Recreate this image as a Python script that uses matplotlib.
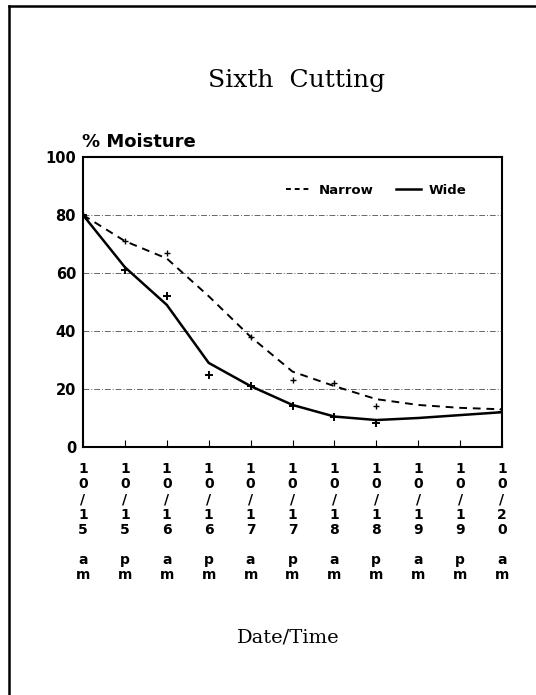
import matplotlib
matplotlib.use("Agg")
import matplotlib.pyplot as plt
from matplotlib.lines import Line2D

# tick labels: date / time, stacked one character per line
dates = ["10/15", "10/15", "10/16", "10/16", "10/17", "10/17",
         "10/18", "10/18", "10/19", "10/19", "10/20"]
ampm = ["am", "pm", "am", "pm", "am", "pm", "am", "pm", "am", "pm", "am"]

# fitted (smoothed) curves
narrow_curve = [80, 71, 65, 52, 38, 26, 21, 16.5, 14.5, 13.5, 13]
wide_curve = [80, 62, 49, 29, 21, 14.5, 10.5, 9.3, 10, 11, 12]

# measured points (+ markers)
narrow_pts_x = [0, 1, 2, 4, 5, 6, 7, 10]
narrow_pts_y = [80, 71, 67, 38, 23, 22, 14, 13]
wide_pts_x = [0, 1, 2, 3, 4, 5, 6, 7, 10]
wide_pts_y = [80, 61, 52, 25, 21, 14, 10.3, 8.3, 12]

W, H = 536, 695
fig = plt.figure(figsize=(W / 100, H / 100), dpi=100)
fig.patch.set_facecolor("white")

# page border (left and top visible)
fig.add_artist(Line2D([9 / W, 9 / W], [0, 1 - 6 / H], transform=fig.transFigure,
                      color="black", lw=1.8))
fig.add_artist(Line2D([9 / W, 1], [1 - 6 / H, 1 - 6 / H], transform=fig.transFigure,
                      color="black", lw=1.8))

ax = fig.add_axes([83 / W, 1 - 447 / H, (502 - 83) / W, (447 - 157) / H])

x = list(range(len(dates)))
ax.plot(x, narrow_curve, color="black", lw=1.4, ls=(0, (4, 3)))
ax.plot(x, wide_curve, color="black", lw=1.8)
ax.plot(narrow_pts_x, narrow_pts_y, ls="none", marker="+", color="black", ms=5, mew=1)
ax.plot(wide_pts_x, wide_pts_y, ls="none", marker="+", color="black", ms=6, mew=1.4)

ax.set_xlim(0, 10)
ax.set_ylim(0, 100)
ax.set_yticks([0, 20, 40, 60, 80, 100])
ax.tick_params(axis="y", length=0, pad=5)
for lab in ax.get_yticklabels():
    lab.set_fontweight("bold")
    lab.set_fontsize(10.5)

labels = ["\n".join(d) + "\n\n" + "\n".join(t) for d, t in zip(dates, ampm)]
ax.set_xticks(x)
ax.set_xticklabels(labels, fontsize=10, fontweight="bold", linespacing=1.1,
                   va="top")
ax.tick_params(axis="x", direction="in", length=5, pad=11)

for y in [20, 40, 60, 80]:
    ax.axhline(y, color="#666666", lw=0.7, ls=(0, (6, 2, 1, 2)), zorder=0)

for s in ax.spines.values():
    s.set_linewidth(1.5)

handles = [Line2D([], [], color="black", lw=1.4, ls=(0, (2.5, 2))),
           Line2D([], [], color="black", lw=1.8)]
ax.legend(handles, ["Narrow", "Wide"], ncol=2, frameon=False,
          loc="center right", bbox_to_anchor=((466 - 83) / 419, 0.886),
          borderaxespad=0, borderpad=0,
          prop={"weight": "bold", "size": 9.5}, handlelength=1.9,
          columnspacing=1.7, handletextpad=0.55)

fig.text(297 / W, 1 - 81 / H, "Sixth  Cutting", ha="center", va="center",
         fontsize=18, family="DejaVu Serif")
fig.text(82 / W, 1 - 142 / H, "% Moisture", ha="left", va="center",
         fontsize=13, fontweight="bold")
fig.text(288 / W, 1 - 637 / H, "Date/Time", ha="center", va="center",
         fontsize=14, family="DejaVu Serif")

fig.savefig("out.png", dpi=100)
